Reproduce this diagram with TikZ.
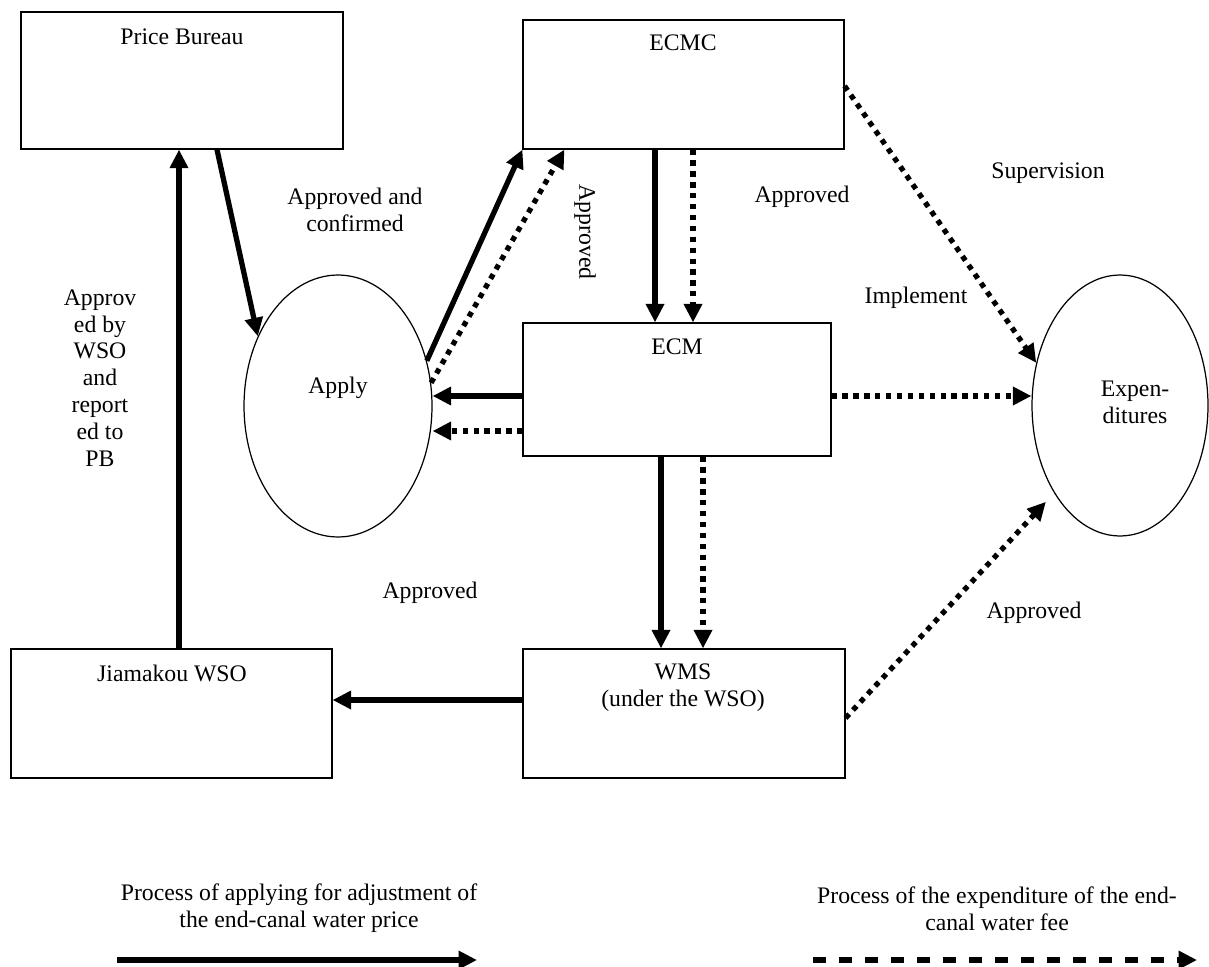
\documentclass[tikz,border=0pt]{standalone}
\usepackage{fontspec}
\setmainfont{Liberation Serif}
\usetikzlibrary{arrows.meta,shapes.geometric}
\begin{document}
\begin{tikzpicture}[x=0.02cm,y=-0.02cm,
	every node/.style={font=\fontsize{13.5}{15.3}\selectfont},
	box/.style={draw,line width=0.7pt,inner sep=0pt},
	oval/.style={draw,ellipse,line width=0.7pt,inner sep=0pt},
	txt/.style={align=center,inner sep=0pt},
	apl/.style={line width=3pt,-{Triangle[length=10.5pt,width=10pt]}},
	spd/.style={line width=3pt,dash pattern=on 3pt off 3.2pt,-{Triangle[length=10.5pt,width=10pt]}},
	lgd/.style={line width=3pt,dash pattern=on 7.4pt off 7.4pt,-{Triangle[length=10.5pt,width=10pt]}}]
	\useasboundingbox (0,0) rectangle (1209,966);
	\path (182,80.5)   node [box,minimum width=6.44cm,minimum height=2.74cm] (pb)   {} (182,37)   node [txt] (pbt)   {Price Bureau};
	\path (683.5,84.5) node [box,minimum width=6.42cm,minimum height=2.58cm] (ecmc) {} (683,43)   node [txt] (ecmct) {ECMC};
	\path (677,389.5)  node [box,minimum width=6.16cm,minimum height=2.66cm] (ecm)  {} (677,347)  node [txt] (ecmt)  {ECM};
	\path (171.5,713.5) node [box,minimum width=6.42cm,minimum height=2.58cm] (jia) {} (172,673)  node [txt] (jiat)  {Jiamakou WSO};
	\path (684,713.5)  node [box,minimum width=6.44cm,minimum height=2.58cm] (wms)  {} (683,687.5) node [txt] (wmst) {WMS\\(under the WSO)};
	\path (338,406)    node [oval,minimum width=3.76cm,minimum height=5.24cm] (apply) {} (338,388) node [txt] (applyt) {Apply};
	\path (1120,405.5) node [oval,minimum width=3.52cm,minimum height=5.22cm] (exp) {} (1135,402) node [txt] (expt) {Expen-\\ditures};

	\path (355,210) node [txt] (l1) {Approved and\\confirmed};
	\path (585,232) node [txt,rotate=-90] (l2) {Approved};
	\path (802,197) node [txt] (l3) {Approved};
	\path (1048,173) node [txt] (l4) {Supervision};
	\path (916,298) node [txt] (l5) {Implement};
	\path (100,378) node [txt] (l6) {Approv\\ed by\\WSO\\and\\report\\ed to\\PB};
	\path (430,593) node [txt] (l7) {Approved};
	\path (1034,613) node [txt] (l8) {Approved};

	\coordinate (ecmL1) at ([yshift=-0.13cm]ecm.west);
	\coordinate (ecmL2) at ([yshift=-0.83cm]ecm.west);
	\coordinate (ecmR)  at ([yshift=-0.13cm]ecm.east);
	\coordinate (wmsL)  at ([yshift=0.27cm]wms.west);

	\draw[apl] ([xshift=0.15cm]jia.north) -- ([xshift=0.15cm]jia.north |- pb.south);
	\draw[apl] ([xshift=0.7cm]pb.south) -- (apply.139);
	\draw[apl] (apply.27) -- (ecmc.south west);
	\draw[spd] (apply.14) -- ([xshift=0.84cm]ecmc.south west);
	\draw[apl] ([xshift=-0.57cm]ecmc.south) -- ([xshift=-0.57cm]ecmc.south |- ecm.north);
	\draw[spd] ([xshift=0.19cm]ecmc.south) -- ([xshift=0.19cm]ecmc.south |- ecm.north);
	\draw[apl] (ecmL1) -- (apply.east |- ecmL1);
	\draw[spd] (ecmL2) -- (apply.east |- ecmL2);
	\draw[spd] (ecmR) -- (exp.west |- ecmR);
	\draw[apl] ([xshift=-0.32cm]ecm.south) -- ([xshift=-0.32cm]ecm.south |- wms.north);
	\draw[spd] ([xshift=0.52cm]ecm.south) -- ([xshift=0.52cm]ecm.south |- wms.north);
	\draw[apl] (wmsL) -- (jia.east |- wmsL);
	\draw[spd] ([yshift=-0.03cm]ecmc.east) -- (exp.153);
	\draw[spd,shorten >=0.24cm] ([yshift=-0.09cm]wms.east) -- (exp.233);

	\path (299,908.5) node [txt] (k1) {Process of applying for adjustment of\\the end-canal water price};
	\path (997,908.5) node [txt] (k2) {Process of the expenditure of the end-\\canal water fee};
	\coordinate (s1) at (117,960);
	\coordinate (s2) at (477,960);
	\coordinate (d1) at (813,960);
	\coordinate (d2) at (1197,960);
	\draw[apl] (s1) -- (s2);
	\draw[lgd] (d1) -- (d2);
\end{tikzpicture}
\end{document}
